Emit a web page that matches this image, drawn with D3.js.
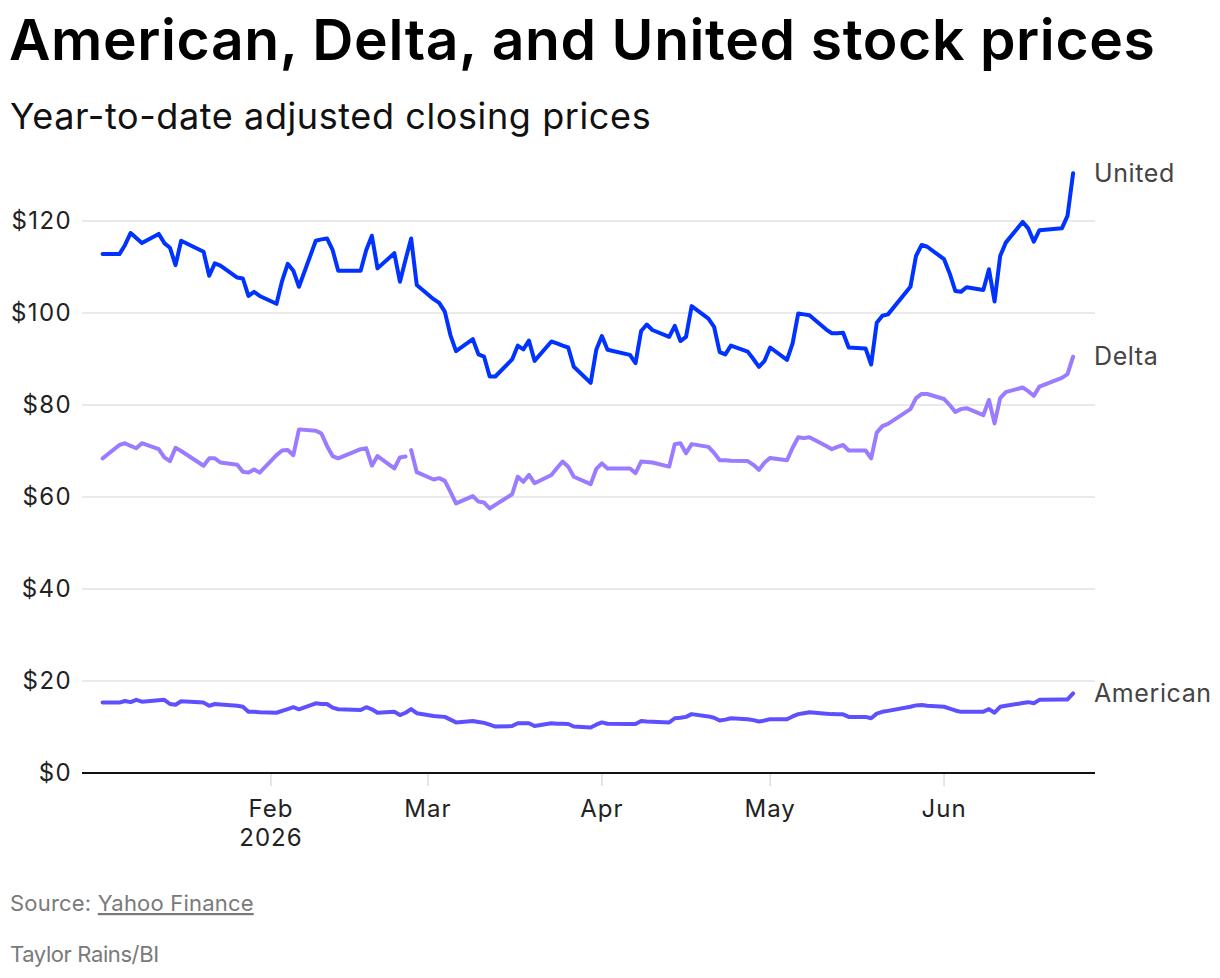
<!DOCTYPE html>
<html><head><meta charset="utf-8">
<script src="https://cdn.jsdelivr.net/npm/d3@7"></script>
<style>
html,body{margin:0;padding:0;background:#fff;}
svg{display:block;font-family:Inter,"Noto Sans",sans-serif;}
</style></head>
<body><svg id="c" width="1220" height="978"></svg>
<script>
const dates = [
"2026-01-02","2026-01-05","2026-01-06","2026-01-07","2026-01-08","2026-01-09","2026-01-12","2026-01-13","2026-01-14","2026-01-15","2026-01-16","2026-01-20","2026-01-21","2026-01-22","2026-01-23","2026-01-26","2026-01-27","2026-01-28","2026-01-29","2026-01-30",
"2026-02-02","2026-02-03","2026-02-04","2026-02-05","2026-02-06","2026-02-09","2026-02-10","2026-02-11","2026-02-12","2026-02-13","2026-02-17","2026-02-18","2026-02-19","2026-02-20","2026-02-23","2026-02-24","2026-02-25","2026-02-26","2026-02-27",
"2026-03-02","2026-03-03","2026-03-04","2026-03-05","2026-03-06","2026-03-09","2026-03-10","2026-03-11","2026-03-12","2026-03-13","2026-03-16","2026-03-17","2026-03-18","2026-03-19","2026-03-20","2026-03-23","2026-03-24","2026-03-25","2026-03-26","2026-03-27","2026-03-30","2026-03-31",
"2026-04-01","2026-04-02","2026-04-06","2026-04-07","2026-04-08","2026-04-09","2026-04-10","2026-04-13","2026-04-14","2026-04-15","2026-04-16","2026-04-17","2026-04-20","2026-04-21","2026-04-22","2026-04-23","2026-04-24","2026-04-27","2026-04-28","2026-04-29","2026-04-30",
"2026-05-01","2026-05-04","2026-05-05","2026-05-06","2026-05-07","2026-05-08","2026-05-11","2026-05-12","2026-05-13","2026-05-14","2026-05-15","2026-05-18","2026-05-19","2026-05-20","2026-05-21","2026-05-22","2026-05-26","2026-05-27","2026-05-28","2026-05-29",
"2026-06-01","2026-06-02","2026-06-03","2026-06-04","2026-06-05","2026-06-08","2026-06-09","2026-06-10","2026-06-11","2026-06-12","2026-06-15","2026-06-16","2026-06-17","2026-06-18","2026-06-22","2026-06-23","2026-06-24"];

const united = [
112.8,112.8,114.8,117.4,116.3,115.2,117.2,115.2,114.2,110.4,115.7,113.3,108.1,110.8,110.3,107.7,107.5,103.7,104.6,103.7,
102.0,107.0,110.7,109.2,105.7,115.7,116.0,116.2,113.7,109.2,109.2,113.7,116.8,109.7,113.0,106.8,111.6,116.2,106.1,
103.0,102.2,100.3,95.2,91.7,94.3,91.0,90.5,86.2,86.2,89.9,92.9,92.1,94.0,89.6,93.8,93.4,92.9,92.5,88.3,84.8,92.0,
95.0,92.0,90.9,89.1,96.1,97.5,96.3,94.8,97.2,93.9,94.8,101.5,98.8,97.0,91.5,91.0,92.9,91.6,90.0,88.3,89.6,
92.5,89.8,93.4,99.9,99.7,99.5,96.4,95.6,95.6,95.7,92.5,92.3,88.8,97.9,99.4,99.7,105.7,112.4,114.8,114.4,
111.7,108.6,104.8,104.6,105.6,105.0,109.5,102.5,112.4,115.3,119.8,118.4,115.5,118.0,118.4,121.1,130.4];

const delta = [
68.4,71.3,71.7,71.1,70.6,71.7,70.4,68.6,67.8,70.7,70.0,66.8,68.4,68.4,67.5,67.0,65.5,65.3,66.0,65.3,
69.1,70.1,70.2,69.1,74.7,74.4,73.8,71.1,68.9,68.4,70.4,70.6,66.8,68.9,66.2,68.6,68.8,70.2,65.4,
63.8,64.1,63.5,61.1,58.6,60.2,59.0,58.8,57.5,58.3,60.6,64.4,63.3,64.8,63.0,64.8,66.3,67.7,66.6,64.4,62.8,66.1,
67.3,66.2,66.2,65.2,67.7,67.6,67.5,66.6,71.5,71.7,69.5,71.5,70.9,69.6,68.0,68.0,67.9,67.8,67.0,65.9,67.5,
68.5,68.0,70.7,73.0,72.8,73.0,71.1,70.4,70.9,71.3,70.1,70.1,68.4,74.0,75.4,75.9,79.1,81.5,82.4,82.4,
81.3,80.0,78.5,79.1,79.3,77.8,81.1,76.0,81.5,82.8,83.8,83.0,82.0,84.0,85.9,86.7,90.5];

const american = [
15.3,15.3,15.65,15.4,15.9,15.5,15.8,15.9,15.0,14.85,15.6,15.3,14.6,15.0,14.9,14.6,14.4,13.3,13.3,13.2,
13.1,13.5,13.9,14.3,13.85,15.15,15.0,15.0,14.2,13.85,13.7,14.3,13.85,13.1,13.3,12.6,13.1,13.9,13.0,
12.4,12.3,12.2,11.6,11.0,11.3,11.1,10.9,10.5,10.1,10.2,10.8,10.8,10.8,10.2,10.8,10.7,10.7,10.65,10.1,9.9,10.5,
11.0,10.7,10.65,10.65,11.3,11.2,11.15,11.0,11.9,12.0,12.2,12.8,12.3,12.0,11.4,11.6,11.9,11.7,11.5,11.2,11.4,
11.7,11.7,12.3,12.8,13.0,13.2,12.9,12.8,12.75,12.75,12.2,12.2,11.9,12.9,13.3,13.5,14.4,14.7,14.8,14.6,
14.4,14.0,13.6,13.3,13.3,13.3,13.9,13.1,14.4,14.6,15.2,15.4,15.15,15.9,16.0,16.0,17.3];

// Delta's line is broken between these two sessions in the source
const deltaBreakAfter = "2026-02-25";

const seriesNames = ["United","Delta","American"];
const seriesColors = ["#0033ff","#9b7bff","#5f50ff"];
const yTicks = [0,20,40,60,80,100,120];
const xTickDates = ["2026-02-01","2026-03-01","2026-04-01","2026-05-01","2026-06-01"];
const xTickLabels = ["Feb","Mar","Apr","May","Jun"];
const titleText = "American, Delta, and United stock prices";
const subtitleText = "Year-to-date adjusted closing prices";

const svg = d3.select("#c");
const parse = d3.utcParse("%Y-%m-%d");
const D = dates.map(parse);

const x = d3.scaleUtc().domain([parse("2026-01-01"), parse("2026-06-24")]).range([97, 1073.1]);
const y = d3.scaleLinear().domain([0, 120]).range([773, 221]);
const left = 82, right = 1095;

svg.append("text").attr("x", 9).attr("y", 60)
  .attr("font-size", 57).attr("font-weight", 600).attr("letter-spacing", 0.6)
  .attr("fill", "#000").text(titleText);
svg.append("text").attr("x", 10).attr("y", 129)
  .attr("font-size", 36).attr("font-weight", 400).attr("letter-spacing", 0.6)
  .attr("fill", "#111").text(subtitleText);

// grid
svg.append("g").selectAll("line").data(yTicks.filter(d => d > 0)).join("line")
  .attr("x1", left).attr("x2", right).attr("y1", d => y(d)).attr("y2", d => y(d))
  .attr("stroke", "#e3e3e3").attr("stroke-width", 1.5);

// y labels
svg.append("g").selectAll("text").data(yTicks).join("text")
  .attr("x", 72).attr("y", d => y(d)).attr("dy", "0.35em")
  .attr("text-anchor", "end").attr("font-size", 24).attr("fill", "#222")
  .attr("letter-spacing", 1.4)
  .text(d => "$" + d);

// x ticks
const xt = xTickDates.map(parse);
svg.append("g").selectAll("line").data(xt).join("line")
  .attr("x1", d => x(d)).attr("x2", d => x(d)).attr("y1", 774).attr("y2", 786)
  .attr("stroke", "#dddddd").attr("stroke-width", 1.5);
svg.append("g").selectAll("text").data(xt).join("text")
  .attr("x", d => x(d)).attr("y", 817).attr("text-anchor", "middle")
  .attr("font-size", 24).attr("fill", "#222").attr("letter-spacing", 1)
  .text((d, i) => xTickLabels[i]);
svg.append("text").attr("x", x(xt[0])).attr("y", 846).attr("text-anchor", "middle")
  .attr("font-size", 24).attr("fill", "#222").attr("letter-spacing", 1).text("2026");

// baseline
svg.append("line").attr("x1", left).attr("x2", right).attr("y1", y(0)).attr("y2", y(0))
  .attr("stroke", "#111").attr("stroke-width", 2);

const line = d3.line().x(d => x(d.date)).y(d => y(d.v)).curve(d3.curveLinear);
const allVals = [united, delta, american];
const breakDate = parse(deltaBreakAfter);

allVals.forEach((vals, si) => {
  const pts = D.map((d, i) => ({date: d, v: vals[i]}));
  let segs = [pts];
  if (seriesNames[si] === "Delta") {
    const k = D.findIndex(d => +d === +breakDate);
    segs = [pts.slice(0, k + 1), pts.slice(k + 1)];
  }
  segs.forEach(s => {
    svg.append("path").attr("d", line(s)).attr("fill", "none")
      .attr("stroke", seriesColors[si]).attr("stroke-width", 4)
      .attr("stroke-linejoin", "round").attr("stroke-linecap", "round");
  });
  const last = pts[pts.length - 1];
  svg.append("text").attr("x", 1094).attr("y", y(last.v)).attr("dy", "0.35em")
    .attr("font-size", 25).attr("fill", "#444").attr("letter-spacing", 0.6)
    .text(seriesNames[si]);
});

// footer
const src = svg.append("text").attr("x", 10).attr("y", 911).attr("font-size", 22)
  .attr("fill", "#7a7a7a").attr("letter-spacing", 0.2);
src.append("tspan").text("Source: ");
src.append("tspan").attr("text-decoration", "underline").text("Yahoo Finance");
svg.append("text").attr("x", 10).attr("y", 962).attr("font-size", 22)
  .attr("fill", "#7a7a7a").attr("letter-spacing", -0.4).text("Taylor Rains/BI");
</script></body></html>
